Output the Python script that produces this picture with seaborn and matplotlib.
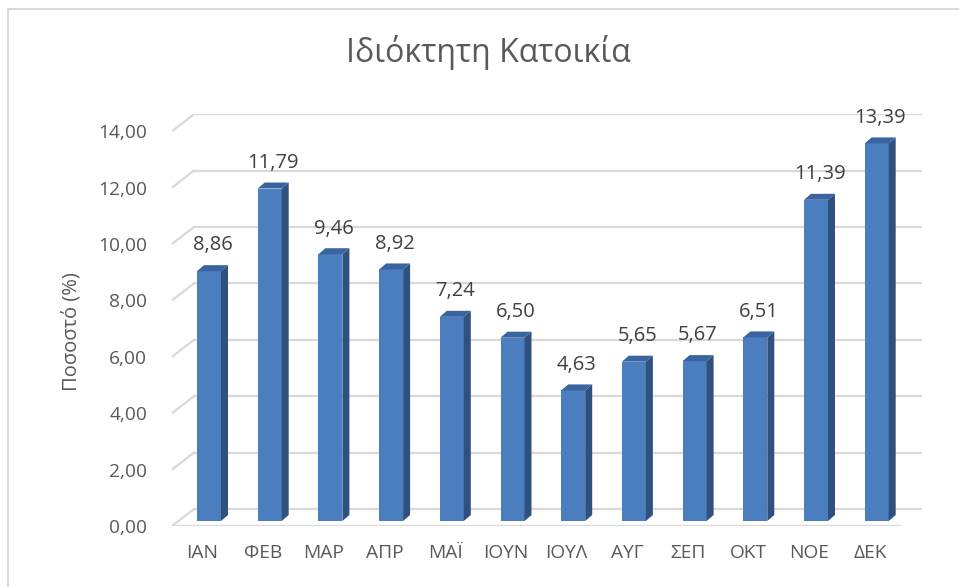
import matplotlib
matplotlib.use("Agg")
import matplotlib.pyplot as plt
from matplotlib.patches import Polygon, Rectangle
from matplotlib.lines import Line2D
import seaborn as sns
import pandas as pd
import numpy as np

months = ["ΙΑΝ", "ΦΕΒ", "ΜΑΡ", "ΑΠΡ", "ΜΑΪ", "ΙΟΥΝ", "ΙΟΥΛ", "ΑΥΓ", "ΣΕΠ", "ΟΚΤ", "ΝΟΕ", "ΔΕΚ"]
values = [8.86, 11.79, 9.46, 8.92, 7.24, 6.50, 4.63, 5.65, 5.67, 6.51, 11.39, 13.39]
yticks = [0, 2, 4, 6, 8, 10, 12, 14]
title = "Ιδιόκτητη Κατοικία"
ylabel = "Ποσοστό (%)"

sns.set_theme(style="white")
plt.rcParams["font.family"] = ["Open Sans", "DejaVu Sans"]
TXT = "#595959"
GRID = "#D9D9D9"
FRONT = "#4A7EBF"
SIDE = "#30517D"
TOP = "#3A64A0"

W, H = 959, 587
fig = plt.figure(figsize=(W / 100, H / 100), dpi=100)
# axes placement in pixels
L, R, B, T = 172, 922, 526, 114
ax = fig.add_axes([L / W, (H - B) / H, (R - L) / W, (B - T) / H])

pxx = 60.7   # px per category
pxy = 28.2   # px per unit
x0 = -(209 - L) / pxx
x1 = x0 + (R - L) / pxx
y0 = -5 / pxy
y1 = y0 + (B - T) / pxy

df = pd.DataFrame({"month": months, "value": values})
sns.barplot(data=df, x="month", y="value", ax=ax, color=FRONT, saturation=1,
            width=24 / pxx, linewidth=0, zorder=3)
ax.set_xlim(x0, x1)
ax.set_ylim(y0, y1)

# 3D floor / gridlines
fdx = 22 / pxx
fdy = 17 / pxy
for v in yticks:
    yf = v + y0
    yb = yf + fdy
    ax.add_line(Line2D([x0, x0 + fdx], [yf, yb], color=GRID, lw=1.6, zorder=1))
    ax.add_line(Line2D([x0 + fdx, x1], [yb, yb], color=GRID, lw=1.6, zorder=1))
ax.add_line(Line2D([x0, x1 - fdx], [y0, y0], color=GRID, lw=1.6, zorder=2))

# bar depth faces
bdx = 7 / pxx
bdy = 6 / pxy
for p, v in zip(ax.patches[:len(values)], values):
    xl = p.get_x()
    xr = xl + p.get_width()
    h = p.get_height()
    side = Polygon([(xr, 0), (xr + bdx, bdy), (xr + bdx, h + bdy), (xr, h)],
                   closed=True, facecolor=SIDE, edgecolor="none", zorder=3)
    top = Polygon([(xl, h), (xl + bdx, h + bdy), (xr + bdx, h + bdy), (xr, h)],
                  closed=True, facecolor=TOP, edgecolor="none", zorder=4)
    ax.add_patch(side)
    ax.add_patch(top)
    ax.annotate(f"{v:.2f}".replace(".", ","), (xl + p.get_width() / 2 + bdx / 2, h + bdy),
                xytext=(0, 7), textcoords="offset points", ha="center", va="bottom",
                fontsize=14.5, color="#404040", annotation_clip=False, zorder=5)

ax.set_yticks([v + y0 for v in yticks])
ax.set_yticklabels([f"{v:.2f}".replace(".", ",") for v in yticks])
ax.set_xticks([i - 6.5 / pxx for i in range(len(months))])
ax.set_xticklabels(months)
ax.tick_params(axis="y", length=0, pad=18, labelsize=13.8, labelcolor=TXT)
ax.tick_params(axis="x", length=0, pad=13, labelsize=13.8, labelcolor=TXT)
ax.set_xlabel("")
ax.set_ylabel("")
for s in ax.spines.values():
    s.set_visible(False)
ax.patch.set_alpha(0)

fig.text(72 / W, 1 - 332 / H, ylabel, rotation=90, ha="center", va="center",
         fontsize=14.5, color=TXT)
fig.text(488 / W, 1 - 52 / H, title, ha="center", va="center",
         fontsize=23, color=TXT)

fig.patches.append(Rectangle((7.5 / W, -0.1), 1.2, 1 - 8.5 / H + 0.1,
                             transform=fig.transFigure, fill=False,
                             edgecolor=GRID, lw=1.5, figure=fig))

fig.savefig("out.png", dpi=100)
